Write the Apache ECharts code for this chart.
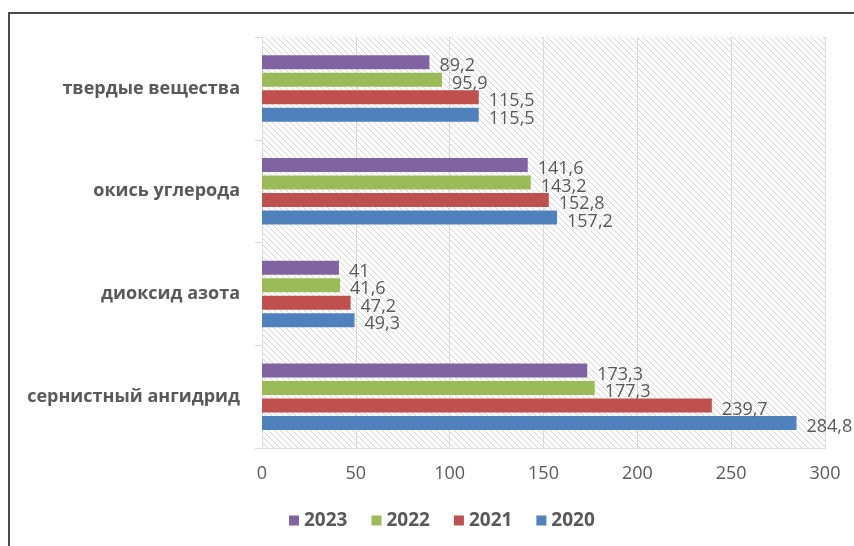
<!DOCTYPE html>
<html>
<head>
<meta charset="utf-8">
<script src="https://cdn.jsdelivr.net/npm/echarts@6/dist/echarts.min.js"></script>
<style>
  html, body { margin: 0; padding: 0; background: #fff; }
  #frame { position: absolute; left: 8px; top: 12px; width: 860px; height: 560px;
           border-top: 2px solid #4a4a4a; border-left: 2px solid #4a4a4a; }
  #main { position: absolute; left: 0; top: 0; width: 854px; height: 546px; }
</style>
</head>
<body>
<div id="frame"></div>
<div id="main"></div>
<script type="text/javascript">
	// категории снизу вверх (ось категорий в ECharts идёт снизу)
	var categories = ['сернистный ангидрид', 'диоксид азота', 'окись углерода', 'твердые вещества'];
	var years = ['2023', '2022', '2021', '2020'];
	var v2023 = [173.3, 41, 141.6, 89.2];
	var v2022 = [177.3, 41.6, 143.2, 95.9];
	var v2021 = [239.7, 47.2, 152.8, 115.5];
	var v2020 = [284.8, 49.3, 157.2, 115.5];
	var xTicks = [0, 50, 100, 150, 200, 250, 300];
	var colors = ['#8064A2', '#9BBB59', '#C0504D', '#4F81BD'];

	// штриховка фона области построения
	var hatch = document.createElement('canvas');
	hatch.width = 6; hatch.height = 6;
	var ctx = hatch.getContext('2d');
	ctx.fillStyle = '#ffffff';
	ctx.fillRect(0, 0, 6, 6);
	ctx.strokeStyle = '#d6d6d6';
	ctx.lineWidth = 1;
	ctx.beginPath();
	ctx.moveTo(-1, -1); ctx.lineTo(7, 7);
	ctx.moveTo(5, -1); ctx.lineTo(7, 1);
	ctx.moveTo(-1, 5); ctx.lineTo(1, 7);
	ctx.stroke();

	var font = '"Open Sans", "DejaVu Sans", sans-serif';
	var values = [v2023, v2022, v2021, v2020];

	var series = years.map(function (y, i) {
		return {
			name: y,
			type: 'bar',
			data: values[i],
			barWidth: 14,
			barGap: '25%',
			itemStyle: { color: colors[i] },
			label: {
				show: true,
				position: 'right',
				distance: 10,
				offset: [0, 4],
				color: '#595959',
				fontSize: 18,
				fontFamily: font,
				formatter: function (p) { return String(p.value).replace('.', ','); }
			}
		};
	});

	var myEcharts = echarts.init(document.getElementById('main'));
	myEcharts.setOption({
		animation: false,
		textStyle: { fontFamily: font },
		grid: {
			left: 262, right: 29, top: 37, bottom: 98,
			show: true,
			borderWidth: 0,
			backgroundColor: { image: hatch, repeat: 'repeat' }
		},
		legend: {
			data: years,
			bottom: 11,
			left: 284,
			icon: 'rect',
			itemWidth: 10,
			itemHeight: 10,
			itemGap: 24,
			textStyle: { color: '#595959', fontSize: 19, fontWeight: 'bold', fontFamily: font }
		},
		xAxis: {
			type: 'value',
			min: xTicks[0],
			max: xTicks[xTicks.length - 1],
			interval: 50,
			axisLine: { show: true, lineStyle: { color: '#d9d9d9' } },
			axisTick: { show: false },
			axisLabel: { color: '#595959', fontSize: 18, margin: 17 },
			splitLine: { show: true, lineStyle: { color: '#d9d9d9' } }
		},
		yAxis: {
			type: 'category',
			data: categories,
			axisLine: { show: false },
			axisTick: { show: true, length: 7, lineStyle: { color: '#d9d9d9' } },
			axisLabel: { color: '#595959', fontSize: 18, fontWeight: 'bold', margin: 22 },
			splitLine: { show: false }
		},
		series: series
	});
</script>
</body>
</html>
